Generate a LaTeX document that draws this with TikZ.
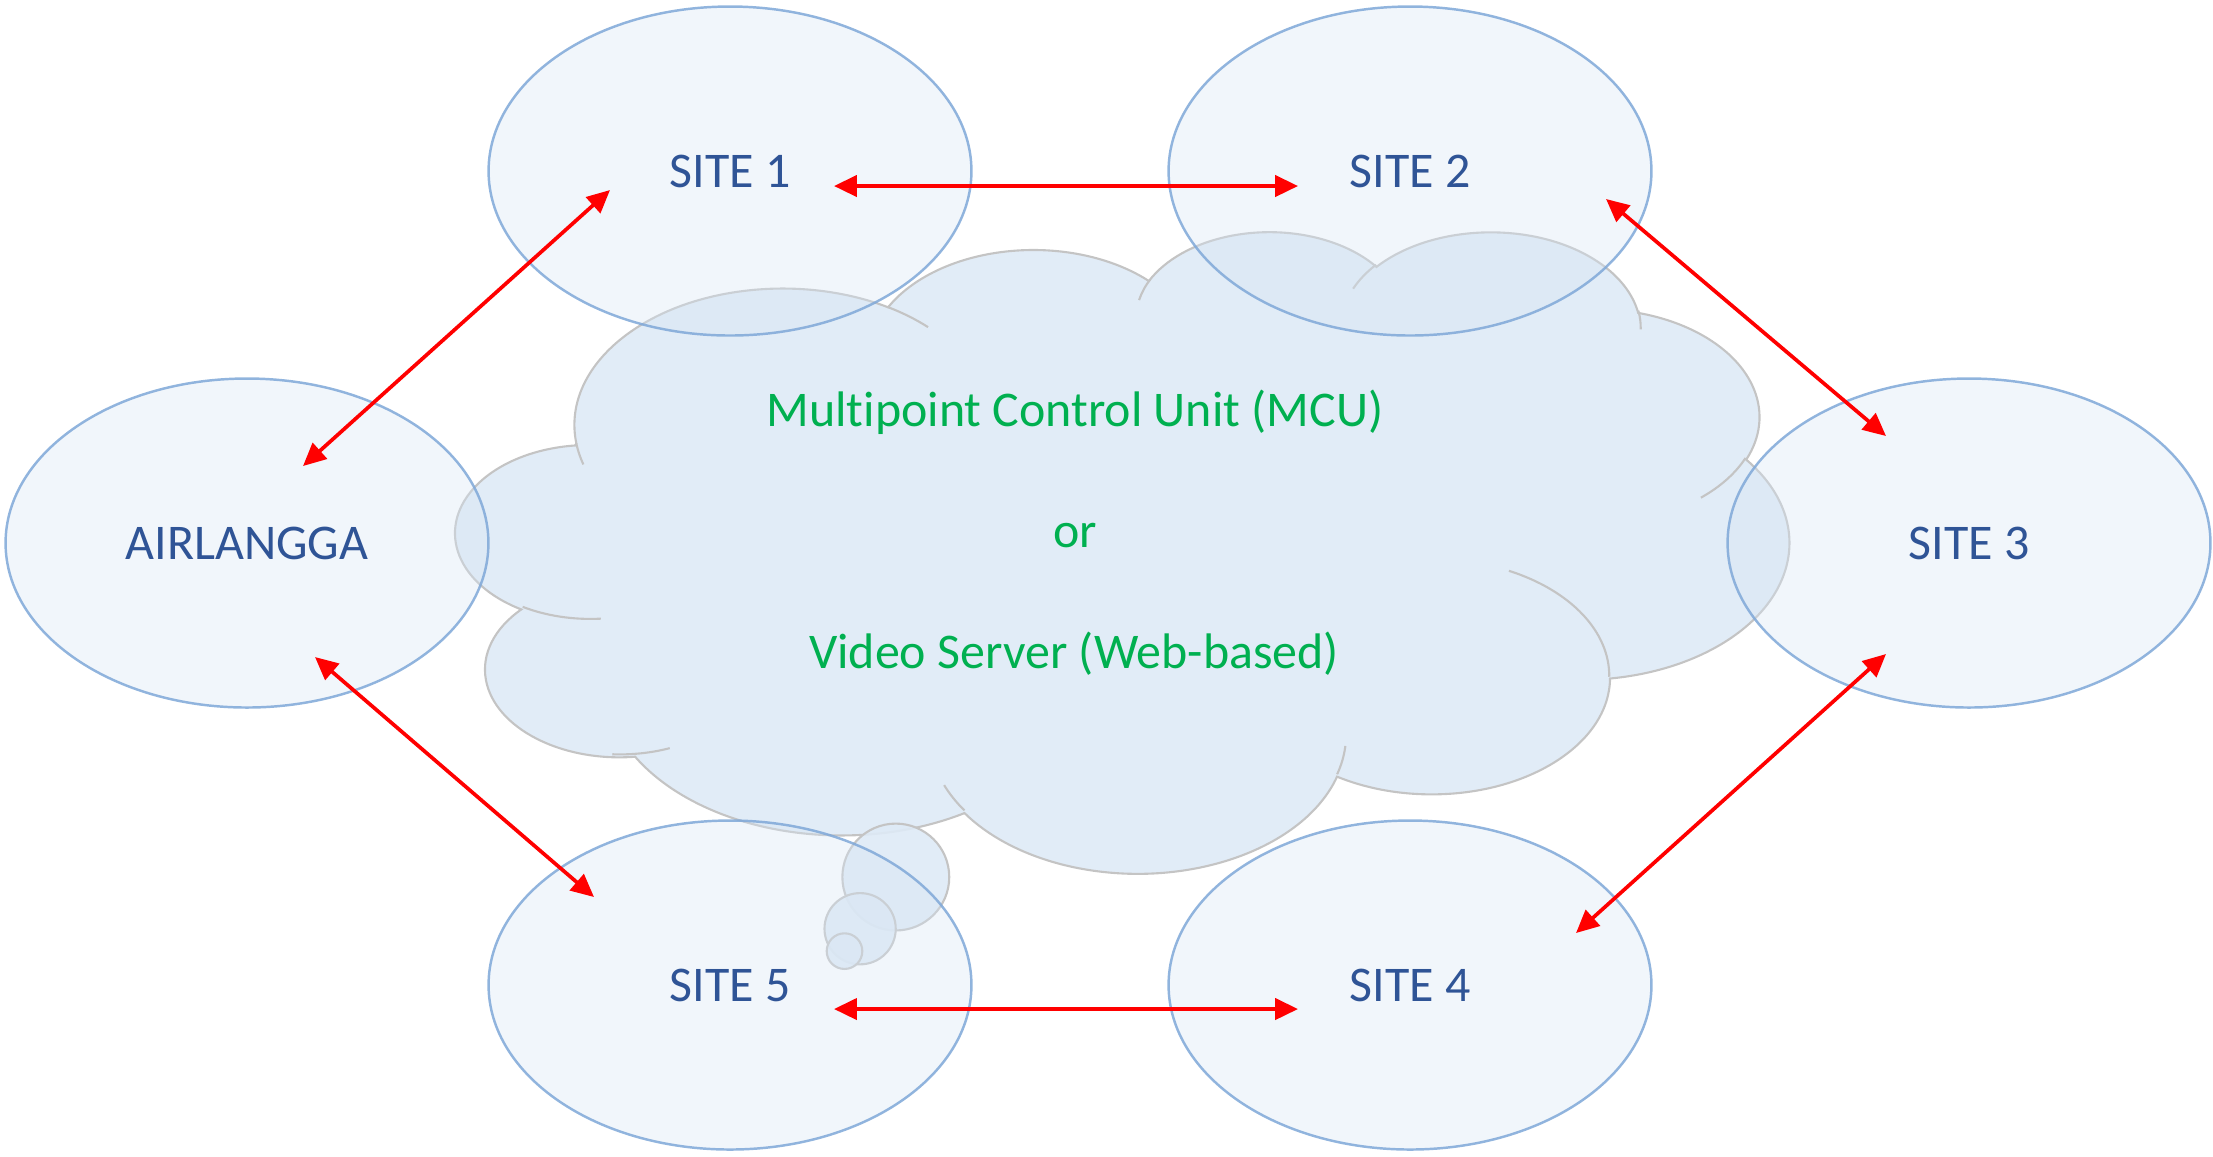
\documentclass[tikz,border=0pt]{standalone}
\usepackage{fontspec}
\setmainfont{Carlito}[Ligatures=NoCommon]
\usetikzlibrary{shapes.geometric,arrows.meta}
\definecolor{cloudfill}{HTML}{DEEAF6}
\definecolor{cloudline}{HTML}{C4C4C4}
\definecolor{sitefill}{HTML}{D6E4F3}
\definecolor{siteline}{HTML}{7FA8D8}
\definecolor{sitetext}{HTML}{2F5496}
\definecolor{mcugreen}{HTML}{00B050}
\definecolor{arrowred}{HTML}{FF0000}
\begin{document}
\begin{tikzpicture}[x=0.01cm,y=-0.01cm,
  sitebox/.style={ellipse, draw=siteline, line width=0.7pt, fill=sitefill,
    fill opacity=0.35, draw opacity=0.85, text opacity=1,
    minimum width=4.826cm, minimum height=3.288cm, inner sep=0pt, outer sep=0pt,
    text=sitetext, font=\fontsize{14.2}{17}\selectfont},
  cloudshape/.style={fill=cloudfill, draw=cloudline, line width=0.6pt, fill opacity=0.9},
  cloudinner/.style={draw=cloudline, line width=0.6pt},
  cloudtext/.style={text=mcugreen, font=\fontsize{14.2}{17}\selectfont, inner sep=0pt},
  link/.style={draw=arrowred, line width=1.05pt,
    {Triangle[length=6.5pt,width=6pt]}-{Triangle[length=6.5pt,width=6pt]}}
]
\useasboundingbox (0,0) rectangle (2213,1156);
% ---- cloud (callout) ----
\begin{scope}[shift={(456,230)}, x=0.308333cm, y=-0.14838cm]
\path[cloudshape] (3.900,14.370)
  arc[x radius=2.0822cm, y radius=1.3636cm, start angle=187.747, end angle=59.62]
  arc[x radius=1.6444cm, y radius=1.0783cm, start angle=152.02, end angle=45.42]
  arc[x radius=1.3459cm, y radius=0.8821cm, start angle=153.49, end angle=37.33]
  arc[x radius=1.4976cm, y radius=0.9786cm, start angle=139.69, end angle=10.21]
  arc[x radius=1.6444cm, y radius=1.0792cm, start angle=74.77, end angle=-23.21]
  arc[x radius=2.0890cm, y radius=1.3681cm, start angle=37.52, end angle=-81.86]
  arc[x radius=1.7837cm, y radius=1.1673cm, start angle=-0.46, end angle=-121.98]
  arc[x radius=2.0819cm, y radius=1.3673cm, start angle=-16.84, end angle=-146.23]
  arc[x radius=2.3803cm, y radius=1.5644cm, start angle=-58.98, end angle=-150.19]
  arc[x radius=1.3443cm, y radius=0.8781cm, start angle=-83.31, end angle=-223.13]
  arc[x radius=1.3397cm, y radius=0.8821cm, start angle=-120.35, end angle=-264.11]
  -- cycle;
\end{scope}
\path[cloudshape] (895.8,877.0) circle[radius=0.534cm];
\path[cloudshape] (860.1,928.7) circle[radius=0.356cm];
\path[cloudshape] (844.5,951.1) circle[radius=0.178cm];
\begin{scope}[shift={(456,230)}, x=0.308333cm, y=-0.14838cm]
\path[cloudinner] (4.693,26.177) arc[x radius=1.3397cm, y radius=0.8821cm, start angle=-85.55, end angle=-120.35];
\path[cloudinner] (6.928,34.899) arc[x radius=1.3443cm, y radius=0.8781cm, start angle=-68.24, end angle=-93.25];
\path[cloudinner] (16.478,39.090) arc[x radius=2.0819cm, y radius=1.3673cm, start angle=-146.23, end angle=-158.21];
\path[cloudinner] (28.827,34.751) arc[x radius=2.0819cm, y radius=1.3673cm, start angle=-4.737, end angle=-16.84];
\path[cloudinner] (34.129,22.954) arc[x radius=1.7837cm, y radius=1.1673cm, start angle=64.03, end angle=-0.46];
\path[cloudinner] (41.798,15.354) arc[x radius=1.6444cm, y radius=1.0792cm, start angle=-23.21, end angle=-49.63];
\path[cloudinner] (38.324,5.426) arc[x radius=1.4976cm, y radius=0.9786cm, start angle=10.21, end angle=-0.82];
\path[cloudinner] (29.078,3.952) arc[x radius=1.4976cm, y radius=0.9786cm, start angle=156.29, end angle=139.69];
\path[cloudinner] (22.141,4.720) arc[x radius=1.3459cm, y radius=0.8821cm, start angle=167.73, end angle=153.49];
\path[cloudinner] (14.000,5.192) arc[x radius=2.0822cm, y radius=1.3636cm, start angle=59.62, end angle=45.72];
\path[cloudinner] (4.127,15.789) arc[x radius=2.0822cm, y radius=1.3636cm, start angle=-163.19, end angle=-172.25];
\end{scope}
\node[cloudtext] (mcu) at (1075,412) {Multipoint Control Unit (MCU)};
\node[cloudtext] (or) at (1075,536) {or};
\node[cloudtext] (video) at (1074,654) {Video Server (Web-based)};
% ---- sites ----
\node[sitebox] (s1) at (730,171) {SITE 1};
\node[sitebox] (s2) at (1410,171) {SITE 2};
\node[sitebox] (air) at (247,543) {AIRLANGGA};
\node[sitebox] (s3) at (1969,543) {SITE 3};
\node[sitebox] (s5) at (730,985) {SITE 5};
\node[sitebox] (s4) at (1410,985) {SITE 4};
% ---- connector ends ----
\coordinate (s1r) at (834,186);
\coordinate (s2l) at (1298,186);
\coordinate (airu) at (303,466);
\coordinate (s1l) at (610,190);
\coordinate (s2r) at (1606,199);
\coordinate (s3u) at (1886,436);
\coordinate (s3d) at (1886,654);
\coordinate (s4r) at (1576,933);
\coordinate (s5r) at (834,1009);
\coordinate (s4l) at (1298,1009);
\coordinate (aird) at (315,657);
\coordinate (s5l) at (594,897);
\draw[link] (s1r) -- (s2l);
\draw[link] (airu) -- (s1l);
\draw[link] (s2r) -- (s3u);
\draw[link] (s3d) -- (s4r);
\draw[link] (s5r) -- (s4l);
\draw[link] (aird) -- (s5l);
\end{tikzpicture}
\end{document}
